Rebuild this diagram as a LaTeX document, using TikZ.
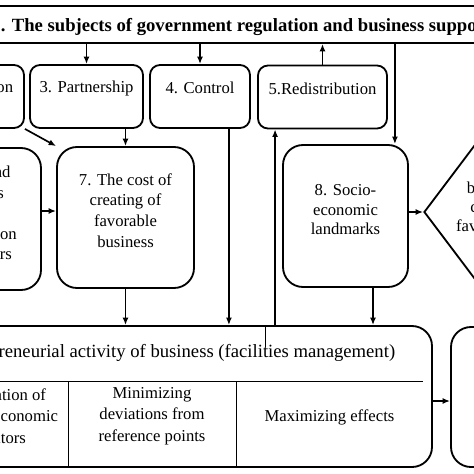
\documentclass[tikz,border=0pt]{standalone}
\usepackage{fontspec}
\setmainfont{Liberation Serif}
\usetikzlibrary{arrows.meta,positioning,shapes.geometric,calc}
\tikzset{
  box/.style={draw, line width=1.1pt, rounded corners=6pt, inner sep=0pt},
  tallbox/.style={box, rounded corners=12pt},
  lbl/.style={align=center, inner sep=0pt},
  conn/.style={line width=1pt, -{Latex[length=4.5pt,width=3.6pt]}},
  rule/.style={line width=0.6pt}
}
\begin{document}
\begin{tikzpicture}[x=0.6pt,y=-0.6pt,font=\fontsize{10}{12.3}\selectfont]
  \useasboundingbox (0,0) rectangle (474,474);
  \clip (0,0) rectangle (474,474);

  \node[draw, line width=1.1pt, minimum width=300pt, minimum height=22.2pt, inner sep=0pt] (subj) at (240,24.5) {};
  \node[anchor=base west, inner sep=0pt, font=\bfseries\fontsize{11.2}{13}\selectfont] (subj-t) at (-8.7,31.7)
        {1. The subjects of government regulation and business support};

  \node[box, minimum width=67.8pt, minimum height=37.8pt] (regul) at (-32.5,96.5) {};
  \node[box, minimum width=67.8pt, minimum height=37.8pt] (part) at (86.5,96.5) {};
  \node[box, minimum width=60pt, minimum height=37.8pt] (ctrl) at (200,96.5) {};
  \node[box, minimum width=77.4pt, minimum height=37.8pt] (redis) at (322.5,97) {};
  \node[lbl] (regul-t) at ([yshift=5pt]regul.center) {2. Regulation};
  \node[lbl] (part-t) at ([yshift=5pt]part.center) {3. Partnership};
  \node[lbl] (ctrl-t) at ([yshift=5pt]ctrl.center) {4. Control};
  \node[lbl] (redis-t) at ([yshift=5pt]redis.center) {5.Redistribution};

  \node[tallbox, minimum width=82.2pt, minimum height=85.2pt] (six) at (-27.5,219) {};
  \node[tallbox, minimum width=82.2pt, minimum height=84.6pt] (cost) at (125.5,217.5) {};
  \node[tallbox, minimum width=75pt, minimum height=85.2pt] (land) at (345.5,216) {};
  \node[diamond, draw, line width=1.1pt, inner sep=0pt, minimum width=85.2pt, minimum height=112.8pt] (climate) at (495,212) {};
  \node[lbl] (six-t) at ([yshift=2.7pt]six.center) {6. Law and\\standards\\of\\regulation on\\competitors};
  \node[lbl, font=\fontsize{10}{12.4}\selectfont] (cost-t) at ([yshift=4.2pt]cost.center) {7. The cost of\\creating of\\favorable\\business};
  \node[lbl, font=\fontsize{10}{11.7}\selectfont] (land-t) at ([yshift=3.6pt]land.center) {8. Socio-\\economic\\landmarks};
  \node[lbl, font=\fontsize{10}{11.4}\selectfont] (climate-t) at (495,209) {business\\climate\\favorability};

  \node[tallbox, minimum width=312pt, minimum height=84.6pt] (ent) at (172,396.5) {};
  \node[tallbox, minimum width=72pt, minimum height=84pt] (rbox) at (511,397) {};
  \node[lbl, font=\fontsize{11.2}{13}\selectfont] (ent-t) at (172,353)
        {Entrepreneurial activity of business (facilities management)};
  \draw[rule] (-88,381) -- (423,381);
  \draw[rule] (68,381) -- (68,467);
  \draw[rule] (236,381) -- (236,467);
  \draw[line width=0.5pt] (265,327) -- (265,347);
  \node[lbl, font=\fontsize{10}{13}\selectfont] (cell-a) at (-7,416) {Optimization of\\the socio-economic\\indicators};
  \node[lbl, font=\fontsize{10}{13}\selectfont] (cell-b) at (152,416) {Minimizing\\deviations from\\reference points};
  \node[lbl] (cell-c) at (329.5,417) {Maximizing effects};

  \coordinate (landin) at ($(land.north east)+(-14,0)$);
  \coordinate (ctrlout) at ($(ctrl.south east)+(-22,0)$);
  \coordinate (redisin) at ($(redis.south west)+(18,0)$);
  \coordinate (landout) at ($(land.south)+(27.5,0)$);

  \draw[conn] (subj.south -| part.north) -- (part.north);
  \draw[conn] (subj.south -| ctrl.north) -- (ctrl.north);
  \draw[conn] (redis.north) -- (subj.south -| redis.north);
  \draw[conn] (subj.south -| landin) -- (landin);
  \draw[conn] (regul.south east) -- (cost.north west);
  \draw[conn] (part.south -| cost.north) -- (cost.north);
  \draw[conn] ([yshift=4.8pt]six.east) -- ([yshift=4.8pt]six.east -| cost.west);
  \draw[conn] (ctrlout) -- (ctrlout |- ent.north);
  \draw[conn] (cost.south) -- (cost.south |- ent.north);
  \draw[conn] (redisin |- ent.north) -- (redisin);
  \draw[conn] (landout) -- (landout |- ent.north);
  \draw[conn] (land.east |- climate.west) -- (climate.west);
  \draw[conn] ([yshift=-2.7pt]ent.east) -- ([yshift=-2.7pt]ent.east -| rbox.west);
\end{tikzpicture}
\end{document}
